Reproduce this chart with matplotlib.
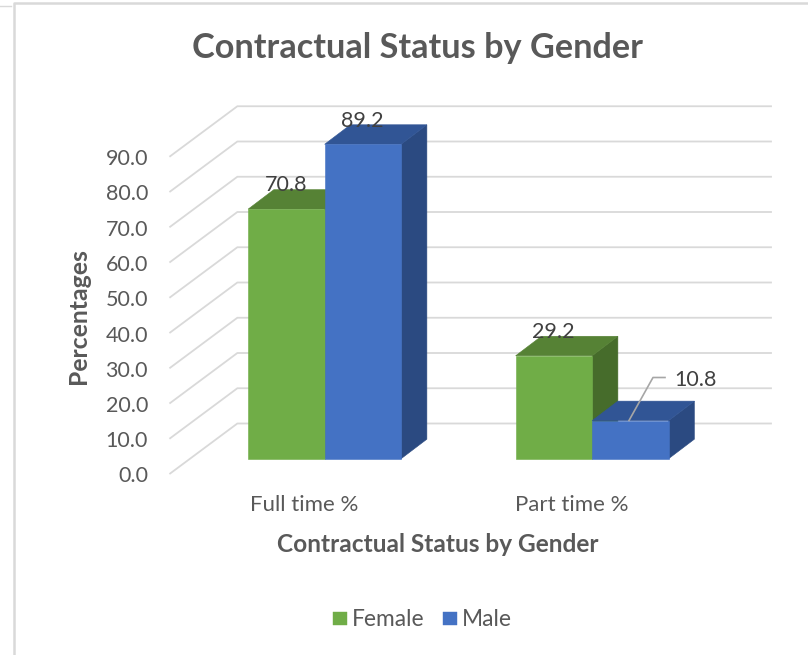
import matplotlib
matplotlib.use("Agg")
import matplotlib.pyplot as plt
from matplotlib.patches import Polygon

categories = ["Full time %", "Part time %"]
female = [70.8, 29.2]
male = [89.2, 10.8]
ticks = [0, 10, 20, 30, 40, 50, 60, 70, 80, 90]

plt.rcParams['font.family'] = ['Lato', 'DejaVu Sans']

# fake 3d: pixel position from category, value and depth (0 front of walls, 1 back wall)
def project(cat, value, depth=0.0):
    return (305.1 + 267.5 * cat + 66 * depth, 473.5 - 3.525 * value - 50 * depth)

def draw_bar(ax, cat, start, stop, value, colors):
    front, top, side = colors
    d0, d1 = 0.296, 0.686
    side_pts = [project(cat + stop, 0, d0), project(cat + stop, 0, d1),
                project(cat + stop, value, d1), project(cat + stop, value, d0)]
    top_pts = [project(cat + start, value, d0), project(cat + stop, value, d0),
               project(cat + stop, value, d1), project(cat + start, value, d1)]
    front_pts = [project(cat + start, 0, d0), project(cat + stop, 0, d0),
                 project(cat + stop, value, d0), project(cat + start, value, d0)]
    for pts, c in [(side_pts, side), (top_pts, top), (front_pts, front)]:
        ax.add_patch(Polygon(pts, closed=True, facecolor=c, edgecolor=c, linewidth=0.4, zorder=3))

fig = plt.figure(figsize=(8.08, 6.55), dpi=100)
ax = fig.add_axes([0, 0, 1, 1])
ax.set_xlim(0, 808)
ax.set_ylim(655, 0)
ax.axis('off')

# page border
ax.plot([14, 14, 808], [655, 2.5, 2.5], color='#d9d9d9', lw=1.8, zorder=1)
ax.plot([0, 11], [6, 6], color='#d9d9d9', lw=1, zorder=1)

# grid on side wall and back wall
grid_c = '#d9d9d9'
for t in ticks:
    x0, y0 = project(-0.5, t, 0)
    x1, y1 = project(-0.5, t, 1)
    ax.plot([x0 - 1.2, x1, 771], [y0, y1, y1], color=grid_c, lw=1.3, zorder=2)
    ax.text(148, y0 + 3, "%.1f" % t, ha='right', va='center', fontsize=15.5, color='#595959')

bar_w = 76.5 / 267.5
green = ('#70ad47', '#568235', '#466c2b')
blue = ('#4472c4', '#315595', '#2b4a81')
for i, cat in enumerate(categories):
    draw_bar(ax, i, -bar_w, 0, female[i], green)
    draw_bar(ax, i, 0, bar_w, male[i], blue)
    x, _ = project(i, 0, 0.286)
    ax.text(x - 19.5, 505, cat, ha='center', va='center', fontsize=16, color='#595959')

# value labels
label_c = '#404040'
ax.text(286, 185, "%.1f" % female[0], ha='center', va='center', fontsize=15.5, color=label_c, zorder=5)
ax.text(362, 121, "%.1f" % male[0], ha='center', va='center', fontsize=15.5, color=label_c, zorder=5)
ax.text(553, 332, "%.1f" % female[1], ha='center', va='center', fontsize=15.5, color=label_c, zorder=5)
ax.text(695, 380.5, "%.1f" % male[1], ha='center', va='center', fontsize=15.5, color=label_c, zorder=5)
ax.plot([629, 653, 665], [420.5, 377.5, 377.5], color='#a6a6a6', lw=1.2, zorder=4)

ax.text(417, 48, "Contractual Status by Gender", ha='center', va='center',
        fontsize=24.7, fontweight='bold', color='#595959')
ax.text(438, 544, "Contractual Status by Gender", ha='center', va='center',
        fontsize=17.6, fontweight='bold', color='#595959')
ax.text(78, 316, "Percentages", ha='center', va='center', rotation=90,
        fontsize=17.8, fontweight='bold', color='#595959')

# legend
for x, c, name in [(333, green[0], "Female"), (443, blue[0], "Male")]:
    ax.add_patch(Polygon([(x, 612), (x + 14, 612), (x + 14, 625), (x, 625)], facecolor=c, edgecolor=c, lw=0.3))
    ax.text(x + 19, 620, name, ha='left', va='center', fontsize=16.4, color='#595959')

fig.savefig("out.png", dpi=100)
